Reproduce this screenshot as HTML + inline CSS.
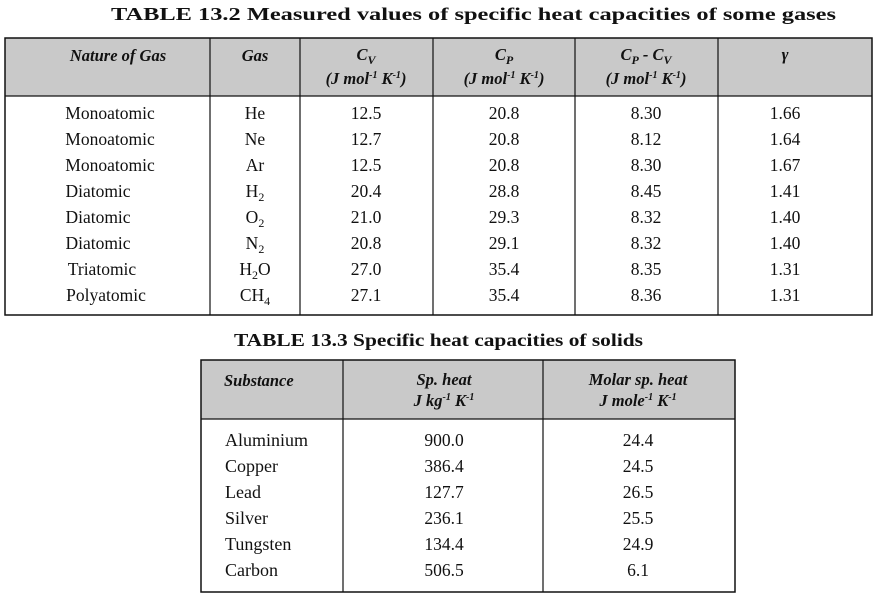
<!DOCTYPE html>
<html><head><style>body{margin:0;background:#fff}svg{display:block}text{font-family:"Liberation Serif",serif;fill:#111}</style></head><body>
<svg width="879" height="605" viewBox="0 0 879 605">
<text x="111" y="20" font-size="18" font-weight="bold" textLength="725" lengthAdjust="spacingAndGlyphs">TABLE 13.2 Measured values of specific heat capacities of some gases</text>
<rect x="5" y="38" width="867" height="58" fill="#c9c9c9"/>
<rect x="5" y="38" width="867" height="277" fill="none" stroke="#111" stroke-width="1.5"/>
<line x1="5" y1="96" x2="872" y2="96" stroke="#111" stroke-width="1.2"/>
<g stroke="#111" stroke-width="1.2"><line x1="210" y1="38" x2="210" y2="315"/><line x1="300" y1="38" x2="300" y2="315"/><line x1="433" y1="38" x2="433" y2="315"/><line x1="575" y1="38" x2="575" y2="315"/><line x1="718" y1="38" x2="718" y2="315"/></g>
<g font-size="16.5" font-weight="bold" font-style="italic" text-anchor="middle">
<text x="118" y="61">Nature of Gas</text><text x="255" y="61">Gas</text>
<text x="366" y="60">C<tspan font-size="12" dy="4">V</tspan></text><text x="366" y="84">(J mol<tspan font-size="10" dy="-6">-1</tspan><tspan dy="6"> K</tspan><tspan font-size="10" dy="-6">-1</tspan><tspan dy="6">)</tspan></text>
<text x="504" y="60">C<tspan font-size="12" dy="4">P</tspan></text><text x="504" y="84">(J mol<tspan font-size="10" dy="-6">-1</tspan><tspan dy="6"> K</tspan><tspan font-size="10" dy="-6">-1</tspan><tspan dy="6">)</tspan></text>
<text x="646" y="60">C<tspan font-size="12" dy="4">P</tspan><tspan dy="-4"> - C</tspan><tspan font-size="12" dy="4">V</tspan></text><text x="646" y="84">(J mol<tspan font-size="10" dy="-6">-1</tspan><tspan dy="6"> K</tspan><tspan font-size="10" dy="-6">-1</tspan><tspan dy="6">)</tspan></text>
<text x="785" y="60">γ</text>
</g>
<g font-size="17.5" text-anchor="middle">
<text x="110" y="119">Monoatomic</text><text x="255" y="119">He</text><text x="366" y="119">12.5</text><text x="504" y="119">20.8</text><text x="646" y="119">8.30</text><text x="785" y="119">1.66</text>
<text x="110" y="145">Monoatomic</text><text x="255" y="145">Ne</text><text x="366" y="145">12.7</text><text x="504" y="145">20.8</text><text x="646" y="145">8.12</text><text x="785" y="145">1.64</text>
<text x="110" y="171">Monoatomic</text><text x="255" y="171">Ar</text><text x="366" y="171">12.5</text><text x="504" y="171">20.8</text><text x="646" y="171">8.30</text><text x="785" y="171">1.67</text>
<text x="98" y="197">Diatomic</text><text x="255" y="197">H<tspan font-size="12" dy="4">2</tspan></text><text x="366" y="197">20.4</text><text x="504" y="197">28.8</text><text x="646" y="197">8.45</text><text x="785" y="197">1.41</text>
<text x="98" y="223">Diatomic</text><text x="255" y="223">O<tspan font-size="12" dy="4">2</tspan></text><text x="366" y="223">21.0</text><text x="504" y="223">29.3</text><text x="646" y="223">8.32</text><text x="785" y="223">1.40</text>
<text x="98" y="249">Diatomic</text><text x="255" y="249">N<tspan font-size="12" dy="4">2</tspan></text><text x="366" y="249">20.8</text><text x="504" y="249">29.1</text><text x="646" y="249">8.32</text><text x="785" y="249">1.40</text>
<text x="102" y="275">Triatomic</text><text x="255" y="275">H<tspan font-size="12" dy="4">2</tspan><tspan dy="-4">O</tspan></text><text x="366" y="275">27.0</text><text x="504" y="275">35.4</text><text x="646" y="275">8.35</text><text x="785" y="275">1.31</text>
<text x="106" y="301">Polyatomic</text><text x="255" y="301">CH<tspan font-size="12" dy="4">4</tspan></text><text x="366" y="301">27.1</text><text x="504" y="301">35.4</text><text x="646" y="301">8.36</text><text x="785" y="301">1.31</text>
</g>
<text x="234" y="346" font-size="18" font-weight="bold" textLength="409" lengthAdjust="spacingAndGlyphs">TABLE 13.3 Specific heat capacities of solids</text>
<rect x="201" y="360" width="534" height="59" fill="#c9c9c9"/>
<rect x="201" y="360" width="534" height="232" fill="none" stroke="#111" stroke-width="1.5"/>
<line x1="201" y1="419" x2="735" y2="419" stroke="#111" stroke-width="1.2"/>
<g stroke="#111" stroke-width="1.2"><line x1="343" y1="360" x2="343" y2="592"/><line x1="543" y1="360" x2="543" y2="592"/></g>
<g font-size="16.5" font-weight="bold" font-style="italic">
<text x="224" y="386">Substance</text>
<text x="444" y="385" text-anchor="middle">Sp. heat</text><text x="444" y="406" text-anchor="middle">J kg<tspan font-size="10" dy="-6">-1</tspan><tspan dy="6"> K</tspan><tspan font-size="10" dy="-6">-1</tspan></text>
<text x="638" y="385" text-anchor="middle">Molar sp. heat</text><text x="638" y="406" text-anchor="middle">J mole<tspan font-size="10" dy="-6">-1</tspan><tspan dy="6"> K</tspan><tspan font-size="10" dy="-6">-1</tspan></text>
</g>
<g font-size="18">
<text x="225" y="446">Aluminium</text><text x="225" y="472">Copper</text><text x="225" y="498">Lead</text><text x="225" y="524">Silver</text><text x="225" y="550">Tungsten</text><text x="225" y="576">Carbon</text>
</g>
<g font-size="17.5" text-anchor="middle">
<text x="444" y="446">900.0</text><text x="638" y="446">24.4</text>
<text x="444" y="472">386.4</text><text x="638" y="472">24.5</text>
<text x="444" y="498">127.7</text><text x="638" y="498">26.5</text>
<text x="444" y="524">236.1</text><text x="638" y="524">25.5</text>
<text x="444" y="550">134.4</text><text x="638" y="550">24.9</text>
<text x="444" y="576">506.5</text><text x="638" y="576">6.1</text>
</g>
</svg>
</body></html>
